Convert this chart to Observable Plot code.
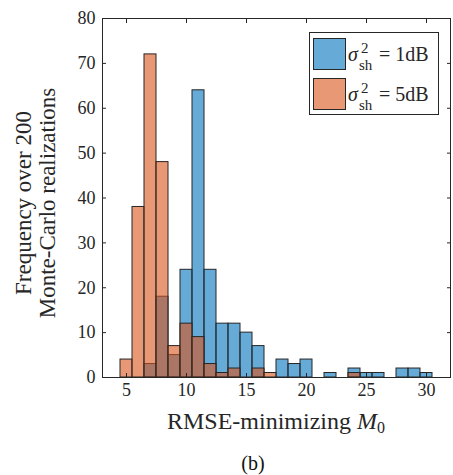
<!DOCTYPE html>
<html>
<head>
<meta charset="utf-8">
<script src="https://cdn.jsdelivr.net/npm/d3@7"></script>
<script src="https://cdn.jsdelivr.net/npm/@observablehq/plot@0.6"></script>
<style>
  html, body { margin: 0; padding: 0; background: #fff; }
  #wrap { position: relative; width: 453px; height: 475px; font-family: "Liberation Serif", "Times New Roman", serif; }
  #caption { position: absolute; left: 0; width: 506px; top: 452px; text-align: center; font-size: 20px; line-height: 22px; color: #111; }
</style>
</head>
<body>
<div id="wrap"><div id="chart"></div><div id="caption">(b)</div></div>
<script>
// ---- data ----
const binCenters = [5,6,7,8,9,10,11,12,13,14,15,16,17,18,19,20,21,22,23,24,25,26,27,28,29,30];
const binWidth = 1;
const counts1dB = [0,0,3,18,5,24,64,24,12,12,10,7,0,4,3,4,0,1,0,2,1,1,0,2,2,1];
const counts5dB = [4,38,72,48,7,12,9,3,1,2,0,2,1,0,0,0,0,0,0,1,0,0,0,0,0,0];
const seriesNames = ["1dB", "5dB"];
const seriesColors = ["#0072BD", "#D95319"];
const xTicks = [5,10,15,20,25,30];
const yTicks = [0,10,20,30,40,50,60,70,80];
const xDomain = [3, 32];
const yDomain = [0, 80];
const yLabelLines = ["Frequency over 200", "Monte-Carlo realizations"];
const xLabelMain = "RMSE-minimizing ";

const rows = [];
[counts1dB, counts5dB].forEach((counts, s) => {
  counts.forEach((c, i) => {
    if (c > 0) rows.push({series: seriesNames[s], x1: binCenters[i] - binWidth/2, x2: binCenters[i] + binWidth/2, count: c});
  });
});

const ink = "#262626";
const W = 453, H = 445, mL = 102, mR = 3, mT = 18, mB = 68;

const chart = Plot.plot({
  width: W, height: H,
  marginLeft: mL, marginRight: mR, marginTop: mT, marginBottom: mB,
  style: {fontFamily: '"Liberation Serif", "Times New Roman", serif', fontSize: "18px", color: ink, background: "white"},
  x: {domain: xDomain},
  y: {domain: yDomain},
  color: {domain: seriesNames, range: seriesColors},
  marks: [
    Plot.rectY(rows.filter(d => d.series === "1dB"), {x1: "x1", x2: "x2", y: "count", fill: "series", fillOpacity: 0.6, stroke: ink, strokeWidth: 1}),
    Plot.rectY(rows.filter(d => d.series === "5dB"), {x1: "x1", x2: "x2", y: "count", fill: "series", fillOpacity: 0.6, stroke: ink, strokeWidth: 1}),
    Plot.frame({stroke: ink, strokeWidth: 1}),
    Plot.axisX({ticks: xTicks, tickSize: -4, tickPadding: 10, label: null, stroke: ink, fill: ink}),
    Plot.axisX({ticks: xTicks, anchor: "top", tickSize: -4, tickFormat: () => "", label: null, stroke: ink}),
    Plot.axisY({ticks: yTicks, tickSize: -4, tickPadding: 11, label: null, stroke: ink, fill: ink}),
    Plot.axisY({ticks: yTicks, anchor: "right", tickSize: -4, tickFormat: () => "", label: null, stroke: ink}),
    Plot.text([yLabelLines.join("\n")], {text: d => d, frameAnchor: "left", rotate: -90, dx: -67, dy: 5, fontSize: 23, lineHeight: 1.05, textAnchor: "middle", fill: ink})
  ]
});
document.getElementById("chart").appendChild(chart);

// x label with italic M and subscript 0
const svg = d3.select(chart);
const xl = svg.append("text")
  .attr("x", (mL + W - mR) / 2)
  .attr("y", 429)
  .attr("text-anchor", "middle")
  .attr("font-size", 24)
  .attr("fill", ink);
xl.append("tspan").text(xLabelMain);
xl.append("tspan").attr("font-style", "italic").text("M");
xl.append("tspan").attr("font-size", 16).attr("dy", 4).text("0");

// legend
const lg = svg.append("g").attr("text-anchor", "start");
lg.append("rect").attr("x", 309.5).attr("y", 32.5).attr("width", 129).attr("height", 82).attr("fill", "white").attr("stroke", ink);
seriesNames.forEach((name, i) => {
  const oy = i * 40;
  lg.append("rect").attr("x", 313.5).attr("y", 38.5 + oy).attr("width", 32).attr("height", 31)
    .attr("fill", seriesColors[i]).attr("fill-opacity", 0.6).attr("stroke", ink);
  lg.append("text").attr("x", 348).attr("y", 61 + oy).attr("text-anchor", "start").attr("font-size", 20).attr("font-style", "italic").attr("fill", ink).text("σ");
  lg.append("text").attr("x", 361).attr("y", 53 + oy).attr("text-anchor", "start").attr("font-size", 15).attr("fill", ink).text("2");
  lg.append("text").attr("x", 359).attr("y", 70 + oy).attr("text-anchor", "start").attr("font-size", 15).attr("fill", ink).text("sh");
  lg.append("text").attr("x", 379).attr("y", 61 + oy).attr("text-anchor", "start").attr("font-size", 20).attr("fill", ink).text("= " + name);
});
</script>
</body>
</html>
